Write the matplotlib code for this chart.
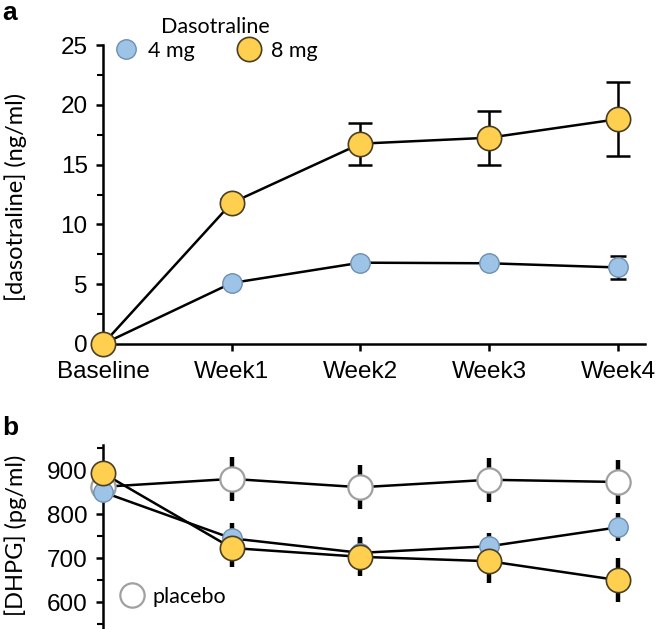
import matplotlib
matplotlib.use('Agg')
import matplotlib.pyplot as plt
from matplotlib.lines import Line2D
from matplotlib.ticker import MultipleLocator

# ---------------- data ----------------
timepoints = ['Baseline', 'Week1', 'Week2', 'Week3', 'Week4']

conc_4mg = [0, 5.1, 6.8, 6.75, 6.4]
conc_4mg_err = [0, 0.3, 0.35, 0.35, 0.95]
conc_8mg = [0, 11.8, 16.75, 17.25, 18.8]
conc_8mg_err = [0, 0.3, 1.75, 2.25, 3.1]

dhpg_placebo = [862, 880, 861, 878, 873]
dhpg_placebo_err = [15, 50, 50, 50, 50]
dhpg_4mg = [850, 745, 712, 727, 770]
dhpg_4mg_err = [15, 35, 35, 30, 32]
dhpg_8mg = [893, 723, 703, 693, 650]
dhpg_8mg_err = [15, 43, 43, 50, 50]

# ---------------- style ----------------
BLUE = '#9DC3E6'
BLUE_E = '#6F8FAF'
YEL = '#FFD04F'
YEL_E = '#4A3F22'
GRAY_E = '#A0A0A0'
TICKFONT = 'Liberation Sans'
TXTFONT = 'Lato'
TICKSIZE = 17.5
LEGSIZE = 15.5

W, H = 660, 629
fig = plt.figure(figsize=(W / 100, H / 100), dpi=100)

x = list(range(len(timepoints)))

# ---------------- panel a ----------------
ax1 = fig.add_axes([103 / W, 1 - 344 / H, 542 / W, 299 / H])
ax1.plot(x, conc_4mg, color='black', lw=1.8, zorder=2)
ax1.plot(x, conc_8mg, color='black', lw=1.8, zorder=2)
ax1.errorbar(x, conc_4mg, yerr=conc_4mg_err, fmt='none', ecolor='black',
             elinewidth=1.8, capsize=6, capthick=1.8, zorder=2)
ax1.errorbar(x, conc_8mg, yerr=conc_8mg_err, fmt='none', ecolor='black',
             elinewidth=1.8, capsize=8.5, capthick=1.8, zorder=2)
ax1.plot(x, conc_4mg, 'o', ls='none', ms=14, mfc=BLUE, mec=BLUE_E, mew=1,
         zorder=3, clip_on=False)
ax1.plot(x, conc_8mg, 'o', ls='none', ms=17.5, mfc=YEL, mec=YEL_E, mew=1.2,
         zorder=4, clip_on=False)

ax1.set_xlim(0, 4.21)
ax1.set_ylim(0, 25)
ax1.set_xticks(x)
ax1.set_xticklabels(timepoints, fontfamily=TICKFONT)
ax1.yaxis.set_major_locator(MultipleLocator(5))
ax1.yaxis.set_minor_locator(MultipleLocator(2.5))
for lab in ax1.get_yticklabels():
    lab.set_fontfamily(TICKFONT)
ax1.spines['top'].set_visible(False)
ax1.spines['right'].set_visible(False)
ax1.spines['left'].set_linewidth(1.8)
ax1.spines['bottom'].set_linewidth(1.8)
ax1.tick_params(axis='both', which='major', direction='out', length=5,
                width=1.8, labelsize=TICKSIZE, pad=6)
ax1.tick_params(axis='x', which='major', pad=7)
ax1.tick_params(axis='y', which='minor', direction='out', length=4, width=1.5)

handles = [Line2D([], [], ls='none', marker='o', ms=14, mfc=BLUE, mec=BLUE_E, mew=1),
           Line2D([], [], ls='none', marker='o', ms=17.5, mfc=YEL, mec=YEL_E, mew=1.2)]
leg = ax1.legend(handles, ['4 mg', '8 mg'], title='Dasotraline', ncol=2,
                 frameon=False, loc='upper left', bbox_to_anchor=(0.019, 1.095),
                 prop={'family': TXTFONT, 'size': LEGSIZE},
                 title_fontproperties={'family': TXTFONT, 'size': LEGSIZE},
                 handletextpad=0.4, columnspacing=1.95, handlelength=1.2,
                 borderaxespad=0, borderpad=0, labelspacing=0.2)

fig.text(16 / W, 1 - 197 / H, '[dasotraline] (ng/ml)', rotation=90,
         ha='center', va='center', fontfamily=TXTFONT, fontsize=17)
fig.text(2 / W, 1 - 20 / H, 'a', fontfamily=TICKFONT, fontweight='bold',
         fontsize=19, ha='left', va='baseline')

# ---------------- panel b ----------------
ax2 = fig.add_axes([103 / W, 0, 542 / W, (H - 445) / H])
for vals, errs in [(dhpg_placebo, dhpg_placebo_err), (dhpg_4mg, dhpg_4mg_err),
                   (dhpg_8mg, dhpg_8mg_err)]:
    ax2.plot(x, vals, color='black', lw=1.8, zorder=2)
    ax2.errorbar(x, vals, yerr=errs, fmt='none', ecolor='black',
                 elinewidth=3.2, capsize=0, zorder=1.5)
ax2.plot(x, dhpg_placebo, 'o', ls='none', ms=17.5, mfc='white', mec=GRAY_E,
         mew=1.6, zorder=3, clip_on=False)
ax2.plot(x, dhpg_4mg, 'o', ls='none', ms=14, mfc=BLUE, mec=BLUE_E, mew=1,
         zorder=4, clip_on=False)
ax2.plot(x, dhpg_8mg, 'o', ls='none', ms=17.5, mfc=YEL, mec=YEL_E, mew=1.2,
         zorder=5, clip_on=False)

ax2.set_xlim(0, 4.21)
ax2.set_ylim(539, 957)
ax2.set_xticks([])
ax2.yaxis.set_major_locator(MultipleLocator(100))
ax2.yaxis.set_minor_locator(MultipleLocator(50))
for lab in ax2.get_yticklabels():
    lab.set_fontfamily(TICKFONT)
for s in ['top', 'right', 'bottom']:
    ax2.spines[s].set_visible(False)
ax2.spines['left'].set_linewidth(1.8)
ax2.tick_params(axis='y', which='major', direction='out', length=5,
                width=1.8, labelsize=TICKSIZE, pad=6)
ax2.tick_params(axis='y', which='minor', direction='out', length=4, width=1.5)

h_pl = [Line2D([], [], ls='none', marker='o', ms=17.5, mfc='white', mec=GRAY_E, mew=1.6)]
ax2.legend(h_pl, ['placebo'], frameon=False, loc='lower left',
           bbox_to_anchor=(0.03, 0.12), prop={'family': TXTFONT, 'size': LEGSIZE},
           handletextpad=0.35, handlelength=1.2, borderaxespad=0, borderpad=0)

fig.text(16 / W, 1 - 535 / H, '[DHPG] (pg/ml)', rotation=90,
         ha='center', va='center', fontfamily=TXTFONT, fontsize=17)
fig.text(2 / W, 1 - 435 / H, 'b', fontfamily=TICKFONT, fontweight='bold',
         fontsize=19, ha='left', va='baseline')

fig.savefig('out.png', dpi=100)
